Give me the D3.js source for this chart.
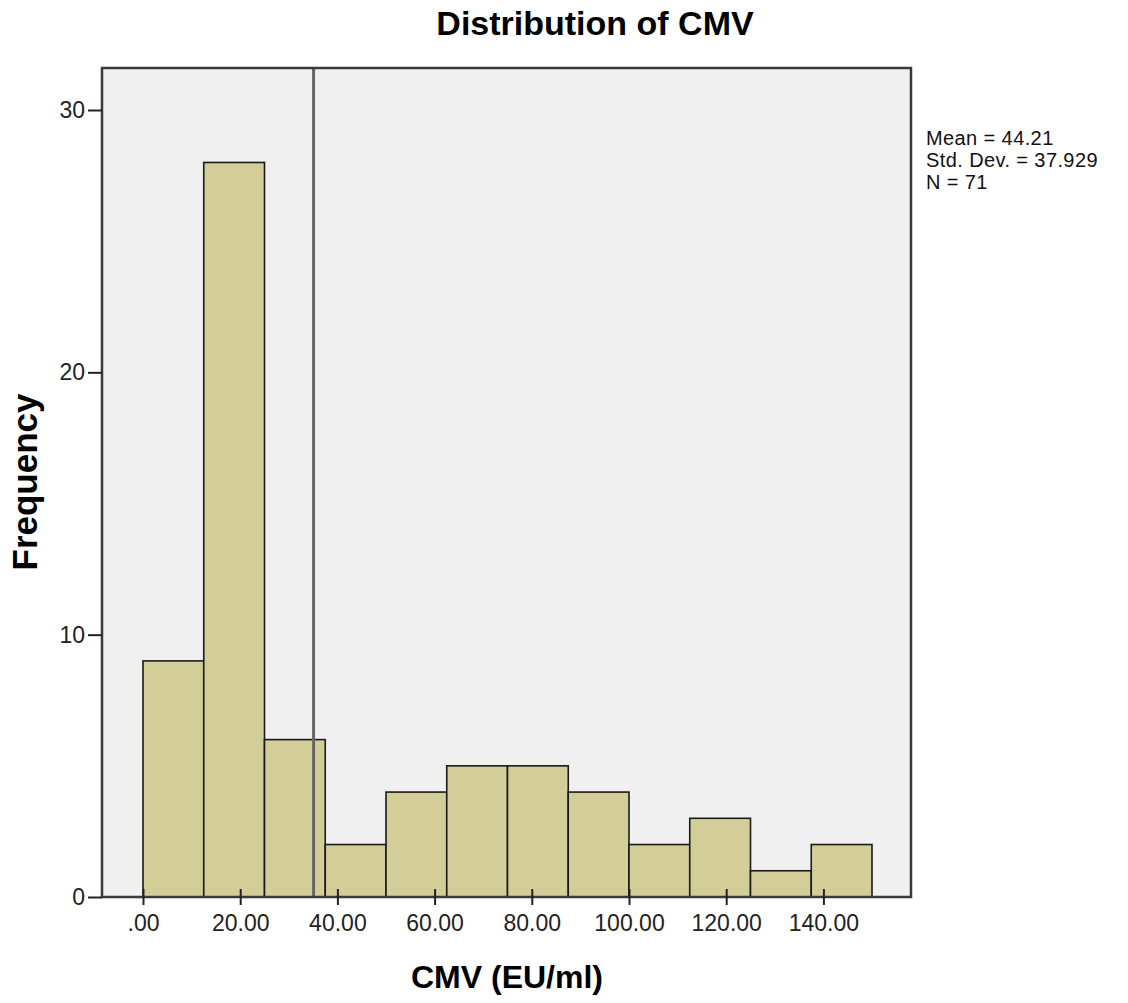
<!DOCTYPE html>
<html>
<head>
<meta charset="utf-8">
<script src="https://cdn.jsdelivr.net/npm/d3@7"></script>
<style>
  body { margin: 0; background: #fff; }
  text { font-family: "Liberation Sans", Arial, sans-serif; }
</style>
</head>
<body>
<div id="chart"></div>
<script>
// histogram bins (lower edges) and counts
const binStarts = [0, 12.5, 25, 37.5, 50, 62.5, 75, 87.5, 100, 112.5, 125, 137.5];
const binWidth = 12.5;
const counts = [9, 28, 6, 2, 4, 5, 5, 4, 2, 3, 1, 2];
const xTicks = [0, 20, 40, 60, 80, 100, 120, 140];
const yTicks = [0, 10, 20, 30];
const refLine = 35.1;
const statsLines = ['Mean = 44.21', 'Std. Dev. = 37.929', 'N = 71'];

const width = 1128, height = 1003;
const frame = { left: 102, right: 911, top: 68, bottom: 897 };

const svg = d3.select('#chart').append('svg')
  .attr('width', width)
  .attr('height', height);

const x = d3.scaleLinear().domain([0, 150]).range([143, 872]);
const y = d3.scaleLinear().domain([0, 30]).range([897, 110]);

// plot background
svg.append('rect')
  .attr('x', frame.left).attr('y', frame.top)
  .attr('width', frame.right - frame.left)
  .attr('height', frame.bottom - frame.top)
  .attr('fill', '#f0f0f0');

// bars
svg.append('g')
  .selectAll('rect')
  .data(counts)
  .enter().append('rect')
  .attr('x', (d, i) => x(binStarts[i]))
  .attr('y', d => y(d))
  .attr('width', (d, i) => x(binStarts[i] + binWidth) - x(binStarts[i]))
  .attr('height', d => y(0) - y(d))
  .attr('fill', '#d3ce98')
  .attr('stroke', '#1a1a1a')
  .attr('stroke-width', 1.6);

// reference line
svg.append('line')
  .attr('x1', x(refLine)).attr('x2', x(refLine))
  .attr('y1', frame.top).attr('y2', frame.bottom)
  .attr('stroke', '#666')
  .attr('stroke-width', 3);

// frame
svg.append('rect')
  .attr('x', frame.left).attr('y', frame.top)
  .attr('width', frame.right - frame.left)
  .attr('height', frame.bottom - frame.top)
  .attr('fill', 'none')
  .attr('stroke', '#3a3a3a')
  .attr('stroke-width', 2.5);

// x axis
const xAxis = svg.append('g')
  .attr('transform', `translate(0,${frame.bottom})`)
  .call(d3.axisBottom(x)
    .tickValues(xTicks)
    .tickSize(8)
    .tickPadding(10)
    .tickFormat(d => d === 0 ? '.00' : d3.format('.2f')(d)));
xAxis.select('.domain').remove();
xAxis.selectAll('.tick line')
  .attr('y1', -8)
  .attr('stroke', '#222')
  .attr('stroke-width', 2);
xAxis.selectAll('.tick text')
  .attr('font-size', 23)
  .attr('font-family', '"Liberation Sans", Arial, sans-serif')
  .attr('fill', '#222');

// y axis
const yAxis = svg.append('g')
  .attr('transform', `translate(${frame.left},0)`)
  .call(d3.axisLeft(y)
    .tickValues(yTicks)
    .tickSize(14)
    .tickPadding(3));
yAxis.select('.domain').remove();
yAxis.selectAll('.tick line')
  .attr('stroke', '#222')
  .attr('stroke-width', 2);
yAxis.selectAll('.tick text')
  .attr('font-size', 23)
  .attr('font-family', '"Liberation Sans", Arial, sans-serif')
  .attr('fill', '#222');

// title and axis labels
svg.append('text')
  .attr('x', 595).attr('y', 35)
  .attr('text-anchor', 'middle')
  .attr('font-size', 34)
  .attr('font-weight', 'bold')
  .text('Distribution of CMV');

svg.append('text')
  .attr('x', 507).attr('y', 988)
  .attr('text-anchor', 'middle')
  .attr('font-size', 32)
  .attr('font-weight', 'bold')
  .text('CMV (EU/ml)');

svg.append('text')
  .attr('transform', 'translate(37,482) rotate(-90)')
  .attr('text-anchor', 'middle')
  .attr('font-size', 35)
  .attr('font-weight', 'bold')
  .text('Frequency');

// stats box
svg.append('g')
  .selectAll('text')
  .data(statsLines)
  .enter().append('text')
  .attr('x', 926)
  .attr('y', (d, i) => 145 + i * 22)
  .attr('font-size', 20)
  .attr('letter-spacing', 0.4)
  .attr('fill', '#111')
  .text(d => d);
</script>
</body>
</html>
